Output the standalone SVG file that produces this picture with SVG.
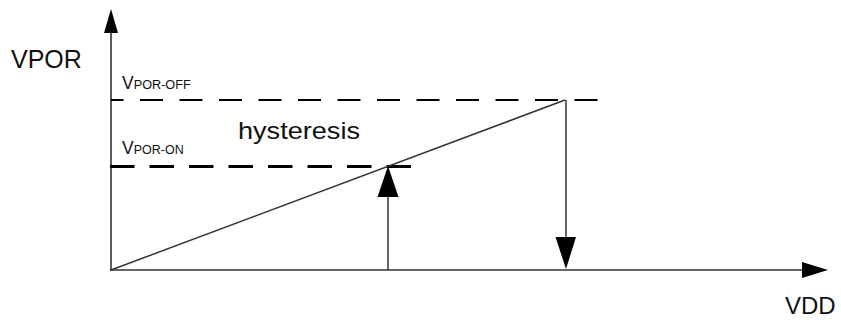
<svg xmlns="http://www.w3.org/2000/svg" width="841" height="320" viewBox="0 0 841 320">
<style>
.t{font-family:"Liberation Sans",Arial,sans-serif;fill:#111}
.ax{stroke:#333;stroke-width:1.6;fill:none}
.ah{fill:#000}
</style>
<rect width="841" height="320" fill="#fff"/>
<g id="axes">
<line class="ax" x1="111" y1="271" x2="111" y2="30"/>
<polygon class="ah" points="111,9 104,33 118,33"/>
<line class="ax" x1="110" y1="270" x2="805" y2="270"/>
<polygon class="ah" points="828,270 802,262 802,278"/>
</g>
<g id="labels">
<text class="t" x="11" y="68" font-size="25">VPOR</text>
<text class="t" x="785" y="314" font-size="24">VDD</text>
<text class="t" x="238" y="139" font-size="24" textLength="122" lengthAdjust="spacingAndGlyphs">hysteresis</text>
<text class="t" x="122" y="89" font-size="17.5">V<tspan font-size="12" textLength="57" lengthAdjust="spacingAndGlyphs">POR-OFF</tspan></text>
<text class="t" x="122" y="154" font-size="17.5">V<tspan font-size="12" textLength="50" lengthAdjust="spacingAndGlyphs">POR-ON</tspan></text>
</g>
<g id="connectors">
<line x1="111" y1="100" x2="600" y2="100" stroke="#000" stroke-width="2" stroke-dasharray="23 16.5" stroke-dashoffset="10.5"/>
<line x1="110" y1="166.5" x2="415" y2="166.5" stroke="#000" stroke-width="3" stroke-dasharray="24.5 15" />
<line x1="111" y1="270" x2="565" y2="100" stroke="#333" stroke-width="1.5"/>
<line x1="388" y1="270" x2="388" y2="190" stroke="#333" stroke-width="1.5"/>
<polygon class="ah" points="388,166 377.5,197 398.5,197"/>
<line x1="566" y1="100" x2="566" y2="240" stroke="#333" stroke-width="1.5"/>
<polygon class="ah" points="566,269 555.5,237 576,237"/>
</g>
</svg>
